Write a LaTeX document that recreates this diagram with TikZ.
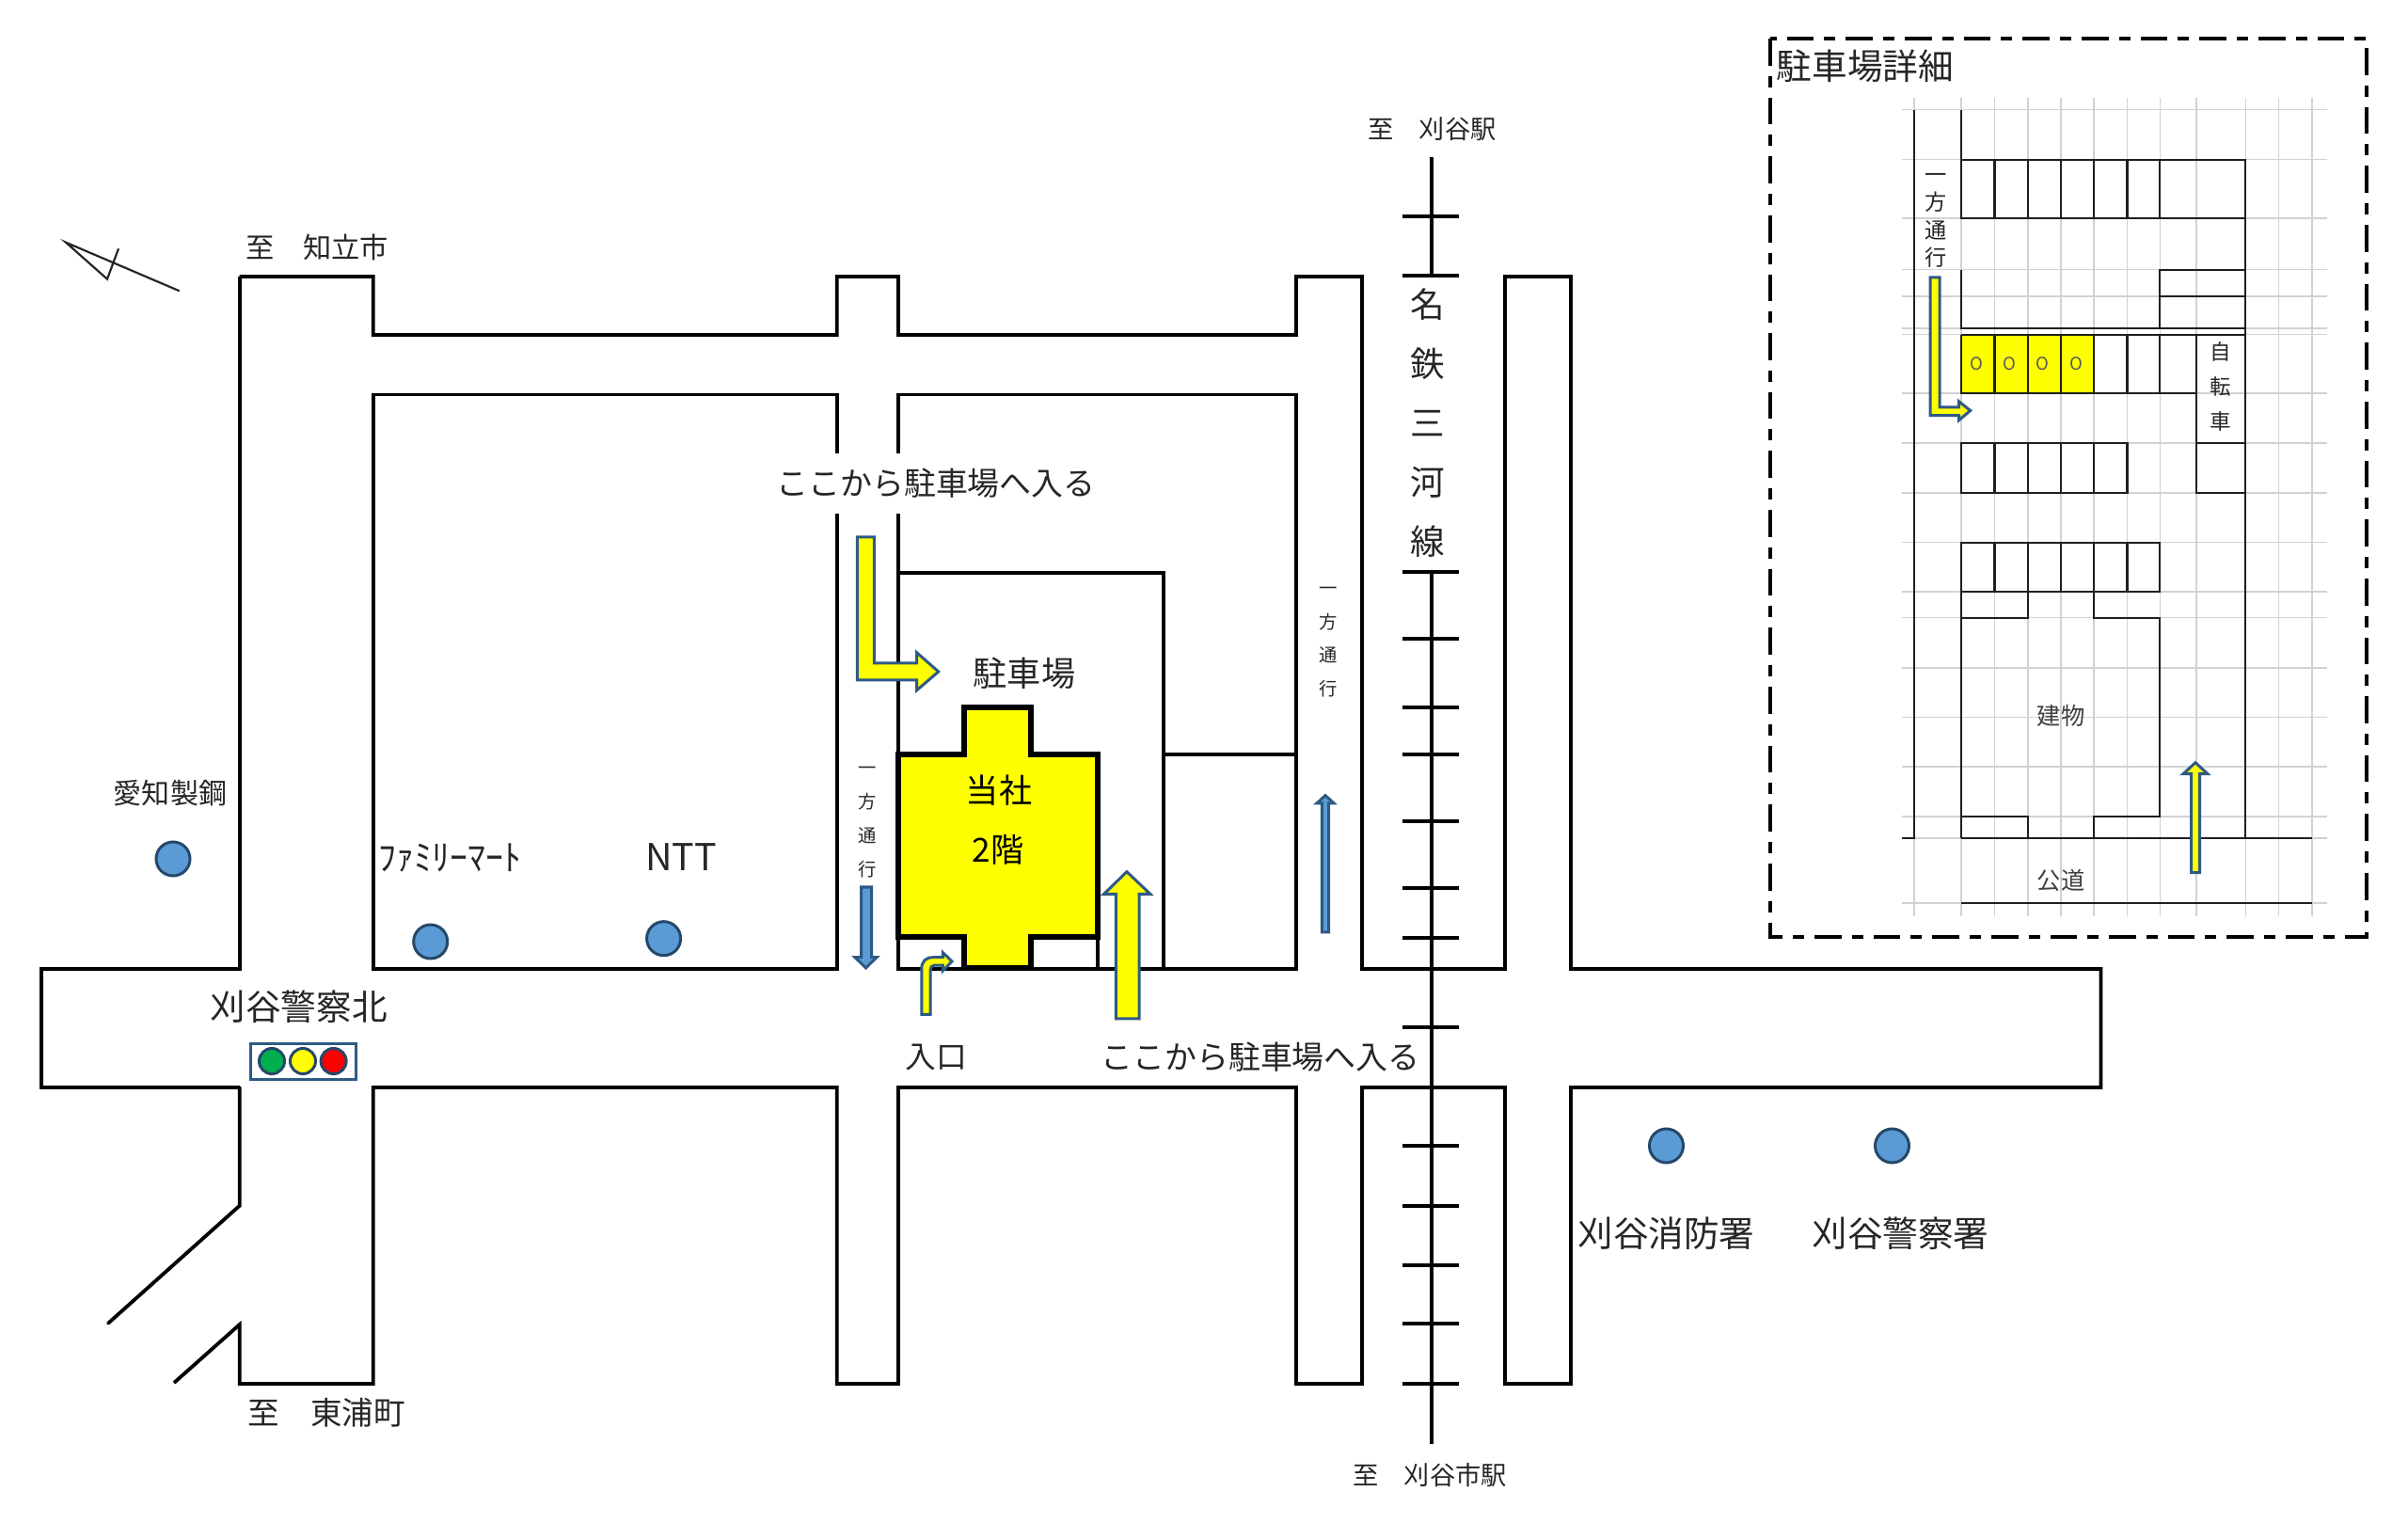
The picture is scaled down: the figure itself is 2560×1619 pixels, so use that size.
\documentclass[tikz,border=0pt]{standalone}
\usepackage{fontspec}
\setmainfont{Noto Sans CJK JP}
\definecolor{arrowedge}{HTML}{2E5A85}
\definecolor{bluefill}{HTML}{5B9BD5}
\definecolor{inkgray}{HTML}{262626}
\definecolor{gridgray}{HTML}{D2D2D2}
\definecolor{pureyellow}{HTML}{FFFF00}
\definecolor{purered}{HTML}{FF0000}
\definecolor{lampgreen}{HTML}{00B050}
\newcommand{\fsz}[2]{\fontsize{#1}{#2}\selectfont}
\tikzset{
  road/.style={draw=black,line width=0.038cm,line join=miter},
  rail/.style={draw=black,line width=0.04cm},
  thin map/.style={draw=black!88,line width=0.022cm},
  gridline/.style={draw=gridgray,line width=0.016cm},
  label/.style={inner sep=0pt,text=inkgray},
  yarrow/.style={draw=arrowedge,fill=pureyellow,line width=0.03cm,line join=miter},
  barrow/.style={draw=arrowedge,fill=bluefill,line width=0.03cm,line join=miter},
  spot/.style={circle,draw=arrowedge!80!black,fill=bluefill,line width=0.03cm,minimum size=0.36cm,inner sep=0pt},
  lamp/.style={circle,draw=arrowedge!80!black,line width=0.03cm,minimum size=0.27cm,inner sep=0pt},
}
\begin{document}
\begin{tikzpicture}[x=0.01cm,y=-0.01cm]
\useasboundingbox (0,0) rectangle (2560,1619);

% ---- main map roads
\draw[road] (254.7,294) -- (396.7,294) -- (396.7,356) -- (889.8,356) -- (889.8,294) -- (955,294) -- (955,356) -- (1378,356) -- (1378,294) -- (1448,294) -- (1448,1030) -- (1600,1030) -- (1600,294) -- (1670,294) -- (1670,1030) -- (2233.5,1030) -- (2233.5,1156) -- (1670,1156) -- (1670,1471) -- (1600,1471) -- (1600,1156) -- (1448,1156) -- (1448,1471) -- (1378,1471) -- (1378,1156) -- (955,1156) -- (955,1471) -- (889.8,1471) -- (889.8,1156) -- (396.7,1156) -- (396.7,1471) -- (254.7,1471) -- (254.7,1408) -- (185,1470);
\draw[road,line cap=round] (254.7,1156) -- (254.7,1281.7) -- (115,1406.7);
\draw[road] (254.7,1156) -- (44,1156) -- (44,1030) -- (254.7,1030) -- (254.7,294);
\draw[road] (396.7,419.6) rectangle (889.8,1030);
\draw[road] (955,419.6) rectangle (1378,1030);
\draw[road] (955,609) -- (1237,609) -- (1237,1030);
\draw[road] (1237,802) -- (1378,802);

% ---- company building
\draw[draw=black,fill=pureyellow,line width=0.06cm,line join=miter] (954.5,802) -- (1025,802) -- (1025,752) -- (1096,752) -- (1096,802) -- (1166.6,802) -- (1166.6,996) -- (1096,996) -- (1096,1029) -- (1025,1029) -- (1025,996) -- (954.5,996) -- cycle;
\draw[road] (1166.6,996) -- (1166.6,1030);

% ---- railway
\draw[rail] (1521.7,167) -- (1521.7,293);
\draw[rail] (1521.7,608) -- (1521.7,1535);
\foreach \ty in {229.6,293,608,679.5,752,802,873,943.6,996.5,1092,1218,1281.6,1345,1407,1471}{
  \draw[rail] (1490.5,\ty) -- (1551,\ty);
}

% ---- compass
\draw[draw=inkgray,line width=0.022cm,line join=miter] (190.7,309.3) -- (70,257.7) -- (114,296.7) -- (126,264.3);

% ---- map arrows
\draw[yarrow] (911.4,571) -- (929.3,571) -- (929.3,705) -- (974.7,705) -- (974.7,693.8) -- (997.7,714) -- (974.7,733.7) -- (974.7,723) -- (911.4,723) -- cycle;
\draw[yarrow] (1186.4,1082.8) -- (1186.4,950.5) -- (1173.5,950.5) -- (1197.9,926.7) -- (1223,950.5) -- (1211,950.5) -- (1211,1082.8) -- cycle;
\draw[yarrow] (979.8,1078.4) -- (979.8,1030) .. controls (979.8,1022) and (984,1017.7) .. (992,1017.7) -- (1002.3,1017.7) -- (1002.3,1012.5) -- (1012,1022) -- (1002.3,1032) -- (1002.3,1026) -- (994,1026) .. controls (991,1026) and (989,1028) .. (989,1031) -- (989,1078.4) -- cycle;
\draw[barrow] (915.5,943) -- (926.5,943) -- (926.5,1017.7) -- (932,1017.7) -- (920.5,1029) -- (909,1017.7) -- (915.5,1017.7) -- cycle;
\draw[barrow] (1405.3,990.8) -- (1405.3,853.8) -- (1400,853.8) -- (1409,845.6) -- (1418,853.8) -- (1412.7,853.8) -- (1412.7,990.8) -- cycle;

% ---- map labels
\node[label,fill=white,minimum height=0.64cm,inner xsep=0.04cm,font=\fsz{9.65}{11}] (entA) at (995,514) {ここから駐車場へ入る};
\node[label,font=\fsz{9.65}{11}] (entB) at (1340,1124) {ここから駐車場へ入る};
\node[label,font=\fsz{9.3}{11}] (iriguchi) at (995.5,1124) {入口};
\node[label,font=\fsz{10.3}{12}] (parking) at (1089,716) {駐車場};
\node[label,font=\fsz{10}{12},text=black] (hq) at (1062,840) {当社};
\node[label,font=\fsz{10}{12},text=black] (floor) at (1061,903) {2階};
\node[label,align=center,font=\fsz{5.5}{10.2}] (oneA) at (922.4,874) {一\\方\\通\\行};
\node[label,align=center,font=\fsz{5.5}{10.2}] (oneB) at (1412.3,682.6) {一\\方\\通\\行};
\node[label,align=center,font=\fsz{10.4}{17.9}] (meitetsu) at (1517.5,449.5) {名\\鉄\\三\\河\\線};
\node[label,font=\fsz{7.75}{10}] (toA) at (1522.5,137) {至　刈谷駅};
\node[label,font=\fsz{7.75}{10}] (toB) at (1520,1568) {至　刈谷市駅};
\node[label,font=\fsz{8.6}{10}] (toC) at (337.5,263) {至　知立市};
\node[label,font=\fsz{9.55}{11}] (toD) at (347,1502) {至　東浦町};
\node[label,font=\fsz{8.54}{10}] (aichi) at (181,842.7) {愛知製鋼};
\node[label,font=\fsz{10.75}{12}] (fami) at (478.6,912) {ﾌｧﾐﾘｰﾏｰﾄ};
\node[label,font=\fsz{11.2}{12}] (ntt) at (724,911.5) {NTT};
\node[label,font=\fsz{10.7}{12}] (kita) at (317.6,1070) {刈谷警察北};
\node[label,font=\fsz{10.7}{12}] (fire) at (1771.5,1311.5) {刈谷消防署};
\node[label,font=\fsz{10.7}{12}] (police) at (2020.5,1311.5) {刈谷警察署};

\node[spot] (sAichi) at (184,913) {};
\node[spot] (sFami) at (457.7,1001) {};
\node[spot] (sNtt) at (705.6,997.7) {};
\node[spot] (sFire) at (1771.5,1218) {};
\node[spot] (sPolice) at (2011.5,1218) {};

% ---- traffic light
\node[draw=arrowedge,fill=white,line width=0.03cm,minimum width=1.11cm,minimum height=0.38cm,inner sep=0pt] (signal) at (322.5,1128.3) {};
\node[lamp,fill=lampgreen] (lampG) at (289,1128) {};
\node[lamp,fill=pureyellow] (lampY) at (322,1128) {};
\node[lamp,fill=purered] (lampR) at (354.6,1128) {};

% ---- inset frame
\draw[draw=black,line width=0.035cm,dash pattern=on 0.286cm off 0.11cm on 0.12cm off 0.11cm] (1881.8,41) rectangle (2516,996);
\node[label,font=\fsz{10.7}{12},text=black!85] (detail) at (1983,70) {駐車場詳細};

% ---- inset grid
\foreach \gx in {2035,2085,2120.4,2155.8,2190.7,2226,2261.4,2296.3,2335,2387.3,2422.6,2458}{
  \draw[gridline] (\gx,104) -- (\gx,974);
}
\foreach \gy in {116.7,169.7,232,286.7,315.3,349.3,355.7,418,471,524,576.7,629.3,656.7,710,762.7,815.3,868.3,890.7,960}{
  \draw[gridline] (2021.5,\gy) -- (2473.5,\gy);
}

% ---- inset plan
\fill[pureyellow] (2085,355.7) rectangle (2226,418);
\draw[thin map] (2021.5,890.7) -- (2035,890.7) -- (2035,116.7);
\draw[thin map] (2085,116.7) -- (2085,232);
\draw[thin map] (2085,169.7) rectangle (2387.3,232);
\foreach \cx in {2120.4,2155.8,2190.7,2226,2261.4,2296.3}{
  \draw[thin map] (\cx,169.7) -- (\cx,232);
}
\draw[thin map] (2387.3,169.7) -- (2387.3,890.7);
\draw[thin map] (2085,286.7) -- (2085,349.3) -- (2387.3,349.3);
\draw[thin map] (2296.3,349.3) -- (2296.3,286.7) -- (2387.3,286.7);
\draw[thin map] (2296.3,315.3) -- (2387.3,315.3);
\draw[thin map] (2085,355.7) -- (2387.3,355.7);
\draw[thin map] (2085,355.7) -- (2085,418) -- (2335,418);
\foreach \cx in {2120.4,2155.8,2190.7,2226,2261.4,2296.3}{
  \draw[thin map] (\cx,355.7) -- (\cx,418);
}
\draw[thin map] (2335,355.7) -- (2335,524) -- (2387.3,524);
\draw[thin map] (2335,471) -- (2387.3,471);
\draw[thin map] (2085,471) rectangle (2261.4,524);
\foreach \cx in {2120.4,2155.8,2190.7,2226}{
  \draw[thin map] (\cx,471) -- (\cx,524);
}
\draw[thin map] (2085,576.7) rectangle (2296.3,629.3);
\foreach \cx in {2120.4,2155.8,2190.7,2226,2261.4}{
  \draw[thin map] (\cx,576.7) -- (\cx,629.3);
}
\draw[thin map] (2085,629.3) -- (2085,890.7);
\draw[thin map] (2085,656.7) -- (2155.8,656.7) -- (2155.8,629.3);
\draw[thin map] (2226,629.3) -- (2226,656.7) -- (2296.3,656.7) -- (2296.3,868.3) -- (2226,868.3) -- (2226,890.7);
\draw[thin map] (2085,868.3) -- (2155.8,868.3) -- (2155.8,890.7);
\draw[thin map] (2085,890.7) -- (2458,890.7);
\draw[thin map] (2085,960) -- (2458,960);

% ---- inset labels
\foreach \cx/\cn in {2101/a,2136.4/b,2171.7/c,2207/d}{
  \node[label,font=\fsz{5.3}{6},text=black!65] (cell\cn) at (\cx,387) {O};
}
\node[label,align=center,font=\fsz{6.6}{8.34}] (oneC) at (2058,234.5) {一\\方\\通\\行};
\node[label,align=center,font=\fsz{6.4}{10.5}] (bike) at (2361,411) {自\\転\\車};
\node[label,font=\fsz{7.2}{9},text=black!75] (bldg) at (2191,761) {建物};
\node[label,font=\fsz{7.2}{9},text=black!75] (pubroad) at (2191,935.5) {公道};

% ---- inset arrows
\draw[yarrow] (2052,295) -- (2062,295) -- (2062,433) -- (2082.5,433) -- (2082.5,426.7) -- (2094.7,436.5) -- (2082.5,446.7) -- (2082.5,441.7) -- (2052,441.7) -- cycle;
\draw[yarrow] (2329.5,927.7) -- (2329.5,822.7) -- (2321,822.7) -- (2334,810.7) -- (2347,822.7) -- (2338.5,822.7) -- (2338.5,927.7) -- cycle;
\end{tikzpicture}
\end{document}
